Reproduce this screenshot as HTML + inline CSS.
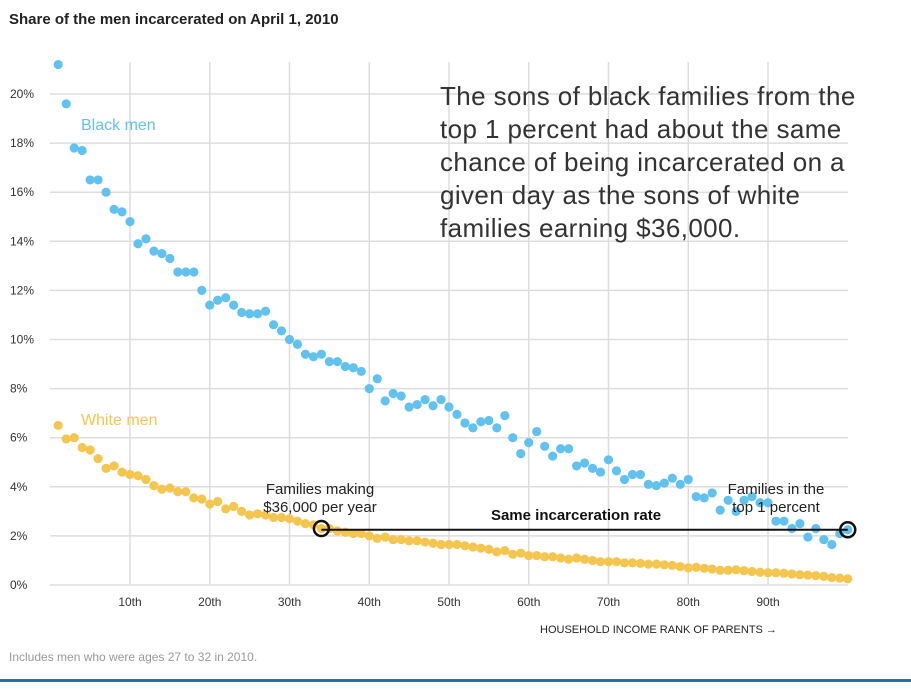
<!DOCTYPE html>
<html><head><meta charset="utf-8"><style>
body{margin:0;background:#fff;font-family:"Liberation Sans",sans-serif;}
svg text{font-family:"Liberation Sans",sans-serif;}
</style></head><body>
<svg id="chart" width="911" height="690" xmlns="http://www.w3.org/2000/svg">
<text x="9" y="24" font-size="15" font-weight="bold" fill="#222">Share of the men incarcerated on April 1, 2010</text>
<g id="grid"></g>
<g id="dots"></g>
<text x="81" y="130" font-size="16" fill="#62c2ef">Black men</text>
<text x="81" y="425" font-size="16" fill="#f5c64f">White men</text>
<g font-size="26" fill="#333" letter-spacing="0.4">
<text x="440" y="105">The sons of black families from the</text>
<text x="440" y="138">top 1 percent had about the same</text>
<text x="440" y="171">chance of being incarcerated on a</text>
<text x="440" y="204">given day as the sons of white</text>
<text x="440" y="237">families earning $36,000.</text>
</g>
<g font-size="15" fill="#222" text-anchor="middle">
<text x="320" y="494">Families making</text><text x="320" y="512">$36,000 per year</text></g>
<g font-size="15" fill="#222" text-anchor="middle">
<text x="776" y="494">Families in the</text><text x="776" y="512">top 1 percent</text></g>
<text x="576" y="520" font-size="15" font-weight="bold" fill="#111" text-anchor="middle">Same incarceration rate</text>
<g id="conn"></g>
<text x="540" y="633" font-size="11" fill="#222">HOUSEHOLD INCOME RANK OF PARENTS →</text>
<text x="9" y="661" font-size="12" fill="#999">Includes men who were ages 27 to 32 in 2010.</text>
<rect x="0" y="679" width="911" height="3" fill="#2a6fad"/>
</svg>
<script>
const yTicks=[0,2,4,6,8,10,12,14,16,18,20];
const xTicks=[10,20,30,40,50,60,70,80,90];
const blackValues=[21.2,19.6,17.8,17.7,16.5,16.5,16.0,15.3,15.2,14.8,13.9,14.1,13.6,13.5,13.3,12.75,12.75,12.75,12.0,11.4,11.6,11.7,11.4,11.1,11.05,11.05,11.15,10.6,10.35,10.0,9.8,9.4,9.3,9.4,9.1,9.1,8.9,8.85,8.7,8.0,8.4,7.5,7.8,7.7,7.25,7.35,7.55,7.3,7.55,7.25,6.95,6.6,6.4,6.65,6.7,6.4,6.9,6.0,5.35,5.8,6.25,5.65,5.25,5.55,5.55,4.85,4.97,4.75,4.6,5.1,4.65,4.3,4.5,4.5,4.1,4.05,4.15,4.35,4.1,4.3,3.6,3.55,3.75,3.05,3.45,3.0,3.45,3.6,3.35,3.35,2.6,2.6,2.3,2.5,1.95,2.3,1.85,1.65,2.1,2.25];
const whiteValues=[6.5,5.95,6.0,5.6,5.5,5.15,4.75,4.85,4.6,4.5,4.45,4.3,4.05,3.9,3.95,3.8,3.8,3.55,3.5,3.3,3.4,3.1,3.2,3.0,2.85,2.9,2.85,2.75,2.75,2.7,2.6,2.5,2.45,2.3,2.3,2.2,2.15,2.1,2.1,2.0,1.9,1.95,1.85,1.85,1.8,1.8,1.75,1.7,1.65,1.65,1.65,1.6,1.55,1.5,1.45,1.35,1.4,1.25,1.3,1.2,1.2,1.15,1.15,1.1,1.05,1.1,1.05,1.0,0.95,0.95,0.95,0.9,0.9,0.88,0.85,0.85,0.82,0.8,0.75,0.7,0.72,0.68,0.65,0.6,0.6,0.62,0.58,0.55,0.52,0.5,0.5,0.48,0.45,0.42,0.4,0.38,0.35,0.3,0.28,0.25];
const matchWhiteRank=34, matchBlackRank=100;
const NS="http://www.w3.org/2000/svg";
const xs=r=>50.25+r*7.975;
const ys=v=>585-v*24.55;
function mk(tag,attrs,parent){const e=document.createElementNS(NS,tag);for(const k in attrs)e.setAttribute(k,attrs[k]);parent.appendChild(e);return e;}
const grid=document.getElementById('grid');
yTicks.forEach(t=>{
 const l=mk('line',{x1:50,x2:848,y1:ys(t),y2:ys(t),stroke:'#ddd','stroke-width':1.5},grid);
 
 
 const tx=mk('text',{x:10,y:ys(t)+4,'font-size':12,fill:'#333'},grid);
 tx.textContent=t+'%';
 
 
});
xTicks.forEach(t=>{
 const l=mk('line',{x1:xs(t),x2:xs(t),y1:62,y2:585,stroke:'#ddd','stroke-width':1.5},grid);
 
 
 const tx=mk('text',{x:xs(t),y:606,'font-size':12,fill:'#333','text-anchor':'middle'},grid);
 tx.textContent=t+'th';
 
 
});
const dots=document.getElementById('dots');
whiteValues.forEach((v,i)=>{
 const c=mk('circle',{cx:xs(i+1),cy:ys(v),r:4.6,fill:'#f5c64f'},dots);
 
 
});
blackValues.forEach((v,i)=>{
 const c=mk('circle',{cx:xs(i+1),cy:ys(v),r:4.6,fill:'#62c2ef'},dots);
 
 
});
const conn=document.getElementById('conn');
const yy=ys(blackValues[matchBlackRank-1]);
const ln=mk('line',{x1:xs(matchWhiteRank),x2:xs(matchBlackRank),y1:yy,y2:yy,stroke:'#111','stroke-width':2},conn);


const c1=mk('circle',{cx:xs(matchWhiteRank),cy:ys(whiteValues[matchWhiteRank-1]),r:7.5,fill:'none',stroke:'#111','stroke-width':2.5},conn);


const c2=mk('circle',{cx:xs(matchBlackRank),cy:yy,r:7.5,fill:'none',stroke:'#111','stroke-width':2.5},conn);


</script>
</body></html>
